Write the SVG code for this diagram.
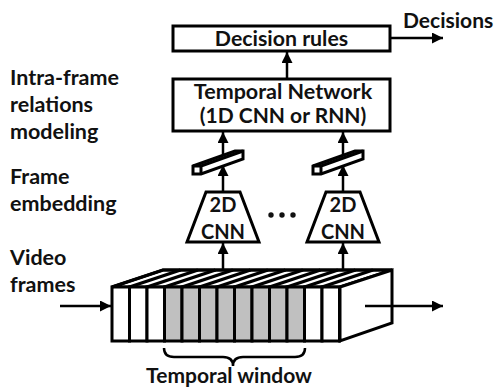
<svg xmlns="http://www.w3.org/2000/svg" width="497" height="387" viewBox="0 0 497 387">
  <style>
    text { font-family: Lato, "Open Sans", "Liberation Sans", sans-serif; font-weight: 700; fill: #111; }
    .lbl { font-size: 21.5px; }
    .box { fill: #fff; stroke: #000; stroke-width: 3; }
    .edge { fill: none; stroke: #000; stroke-width: 3; }
    .hatch { fill: none; stroke: #000; stroke-width: 3.4; }
    .wire { fill: none; stroke: #000; stroke-width: 2.5; }
    .frame { stroke: #000; stroke-width: 3; }
    .blank { fill: #fff; }
    .win { fill: #c0c0c0; }
  </style>
  <defs>
    <marker id="head" viewBox="0 0 10 10" refX="10" refY="5" markerWidth="11" markerHeight="11" markerUnits="userSpaceOnUse" orient="auto">
      <path d="M0,0 L10,5 L0,10 z" fill="#000"/>
    </marker>
    <!-- one embedding bar, drawn around x = 0 -->
    <g id="bar">
      <path class="box" d="M-30,166 L12,151 L20,151 L20,159 L-22,174 L-30,174 Z"/>
      <path class="edge" d="M-30,166 L-22,166 L-22,174 M-22,166 L20,151" stroke-width="2.5"/>
    </g>
  </defs>

  <!-- side labels -->
  <g id="labels">
    <text class="lbl" x="10" y="85">Intra-frame</text>
    <text class="lbl" x="10" y="112">relations</text>
    <text class="lbl" x="10" y="139">modeling</text>
    <text class="lbl" x="10" y="184">Frame</text>
    <text class="lbl" x="10" y="211">embedding</text>
    <text class="lbl" x="10" y="265">Video</text>
    <text class="lbl" x="10" y="292">frames</text>
  </g>

  <!-- connectors -->
  <g id="connectors" class="wire">
    <line x1="287" y1="79" x2="287" y2="52" marker-end="url(#head)"/>
    <line x1="390" y1="38" x2="443" y2="38" marker-end="url(#head)"/>
    <line x1="223" y1="156" x2="223" y2="132" marker-end="url(#head)"/>
    <line x1="343" y1="156" x2="343" y2="132" marker-end="url(#head)"/>
    <line x1="223" y1="192" x2="223" y2="165" marker-end="url(#head)"/>
    <line x1="343" y1="192" x2="343" y2="165" marker-end="url(#head)"/>
    <line x1="223" y1="270" x2="223" y2="243" marker-end="url(#head)"/>
    <line x1="343" y1="270" x2="343" y2="243" marker-end="url(#head)"/>
    <line x1="60" y1="306" x2="111" y2="306" marker-end="url(#head)"/>
    <line x1="365" y1="306" x2="443" y2="306" marker-end="url(#head)"/>
  </g>

  <!-- decision rules -->
  <g id="decision-rules">
    <rect class="box" x="173" y="26" width="217" height="25"/>
    <text x="281.5" y="46" font-size="21.3" text-anchor="middle">Decision rules</text>
  </g>
  <g id="decisions">
    <text x="403" y="28" font-size="21">Decisions</text>
  </g>

  <!-- temporal network -->
  <g id="temporal-network">
    <rect class="box" x="173" y="79" width="217" height="52"/>
    <text x="283" y="99" font-size="21.5" text-anchor="middle">Temporal Network</text>
    <text x="283" y="123" font-size="21" text-anchor="middle">(1D CNN or RNN)</text>
  </g>

  <!-- frame embeddings -->
  <g id="embedding-1"><use href="#bar" x="223"/></g>
  <g id="embedding-2"><use href="#bar" x="343"/></g>

  <!-- per-frame 2D CNNs -->
  <g id="cnn-1">
    <path class="box" d="M206,192 L240,192 L259,242 L187,242 Z"/>
    <text x="223" y="212" font-size="20" text-anchor="middle">2D</text>
    <text x="223" y="239" font-size="20" text-anchor="middle">CNN</text>
  </g>
  <g id="cnn-2">
    <path class="box" d="M326,192 L360,192 L379,242 L307,242 Z"/>
    <text x="343" y="212" font-size="20" text-anchor="middle">2D</text>
    <text x="343" y="239" font-size="20" text-anchor="middle">CNN</text>
  </g>
  <g id="ellipsis" fill="#111">
    <circle cx="271" cy="215" r="2.7"/>
    <circle cx="282" cy="215" r="2.7"/>
    <circle cx="293" cy="215" r="2.7"/>
  </g>

  <!-- stack of video frames -->
  <g id="video-frames">
    <path class="box" d="M112,287 L163,270 L392,270 L340,287 Z"/>
    <path class="box" d="M340,287 L392,270 L392,323 L340,341 Z"/>
    <g class="frame">
      <rect class="blank" x="112" y="287" width="17.5" height="54"/>
      <rect class="blank" x="129.5" y="287" width="17.5" height="54"/>
      <rect class="blank" x="147" y="287" width="17.5" height="54"/>
      <rect class="win" x="164.5" y="287" width="17.5" height="54"/>
      <rect class="win" x="182" y="287" width="17.5" height="54"/>
      <rect class="win" x="199.5" y="287" width="17.5" height="54"/>
      <rect class="win" x="217" y="287" width="17.5" height="54"/>
      <rect class="win" x="234.5" y="287" width="17.5" height="54"/>
      <rect class="win" x="252" y="287" width="17.5" height="54"/>
      <rect class="win" x="269.5" y="287" width="17.5" height="54"/>
      <rect class="win" x="287" y="287" width="17.5" height="54"/>
      <rect class="blank" x="304.5" y="287" width="17.5" height="54"/>
      <rect class="blank" x="322" y="287" width="17.5" height="54"/>
    </g>
    <!-- top edges of each frame -->
    <path class="hatch" d="M129.5,287 l51,-17 M147,287 l51,-17 M164.5,287 l51,-17 M182,287 l51,-17 M199.5,287 l51,-17 M217,287 l51,-17 M234.5,287 l51,-17 M252,287 l51,-17 M269.5,287 l51,-17 M287,287 l51,-17 M304.5,287 l51,-17 M322,287 l51,-17"/>
    <path class="edge" d="M112,287 L163,270 L392,270"/>
    <line class="wire" x1="365" y1="306" x2="392" y2="306"/>
  </g>

  <!-- temporal window -->
  <g id="temporal-window">
    <path class="wire" d="M164,348 Q164,357 174,357 L223,357 Q233,357 233,366 Q233,357 243,357 L295,357 Q305,357 305,348"/>
    <text x="229" y="383" font-size="21" text-anchor="middle">Temporal window</text>
  </g>
</svg>
